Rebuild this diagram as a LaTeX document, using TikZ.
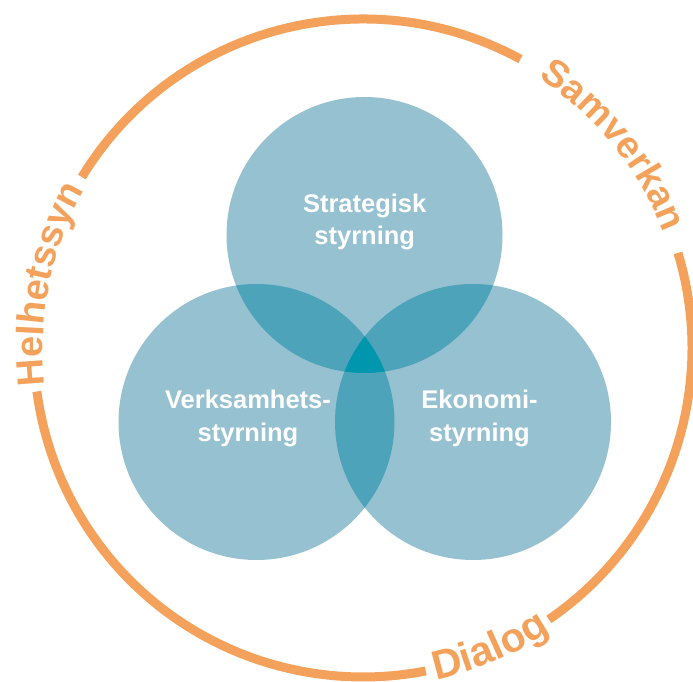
\documentclass[tikz,border=0pt]{standalone}
\usepackage{fontspec}
\setmainfont{Liberation Sans}
\usetikzlibrary{decorations.text}
\definecolor{ringorange}{HTML}{F4A25B}
\definecolor{setlight}{HTML}{96C1D0}
\definecolor{setmid}{HTML}{4DA3BA}
\definecolor{setdark}{HTML}{0096AD}
\newcommand{\ringfont}{\fontsize{38}{38}\selectfont\bfseries\color{ringorange}}
\newcommand{\ringfontlarge}{\fontsize{41}{41}\selectfont\bfseries\color{ringorange}}
\tikzset{
  ring/.style={draw=ringorange, line width=9pt},
  label/.style={text=white, font=\fontsize{25.5}{32}\selectfont\bfseries, anchor=base, inner sep=0pt},
  ringtext/.style={decorate, decoration={text along path, text align=center, text={|\ringfont|#1}}},
  ringtextlarge/.style={decorate, decoration={text along path, text align=center, text={|\ringfontlarge|#1}}}
}
\begin{document}
\begin{tikzpicture}[x=1pt, y=1pt]
\useasboundingbox (0,0) rectangle (693,682);
% centres
\coordinate (O) at (363,334);
\coordinate (S) at (364.5,447);
\coordinate (V) at (256.5,260);
\coordinate (E) at (473,260);
\def\rr{138}
% three sets
\fill[setlight] (S) circle (\rr) (V) circle (\rr) (E) circle (\rr);
% pairwise overlaps
\begin{scope}\clip (S) circle (\rr); \fill[setmid] (V) circle (\rr); \end{scope}
\begin{scope}\clip (S) circle (\rr); \fill[setmid] (E) circle (\rr); \end{scope}
\begin{scope}\clip (V) circle (\rr); \fill[setmid] (E) circle (\rr); \end{scope}
% common core
\begin{scope}\clip (S) circle (\rr); \clip (V) circle (\rr); \fill[setdark] (E) circle (\rr); \end{scope}
% labels
\node[label] (st1) at (364.7,469) {Strategisk};
\node[label] (st2) at (364.7,437) {styrning};
\node[label] (vs1) at (248,273) {Verksamhets-};
\node[label] (vs2) at (248,240.5) {styrning};
\node[label] (es1) at (479.5,273) {Ekonomi-};
\node[label] (es2) at (479.5,240.5) {styrning};
% outer ring, broken for its words
\draw[ring] (O) ++(61.4:329) arc[start angle=61.4, end angle=148.7, radius=329];
\draw[ring] (O) ++(187.6:329) arc[start angle=187.6, end angle=281, radius=329];
\draw[ring] (O) ++(-55.6:329) arc[start angle=-55.6, end angle=16.8, radius=329];
% words on the ring
\path[ringtext=Samverkan] (O) ++(60:322) arc[start angle=60, end angle=18, radius=322];
\path[ringtext=Helhetssyn] (O) ++(188:320) arc[start angle=188, end angle=149, radius=320];
\path[ringtextlarge=Dialog] (O) ++(-80:340) arc[start angle=-80, end angle=-54, radius=340];
\end{tikzpicture}
\end{document}
